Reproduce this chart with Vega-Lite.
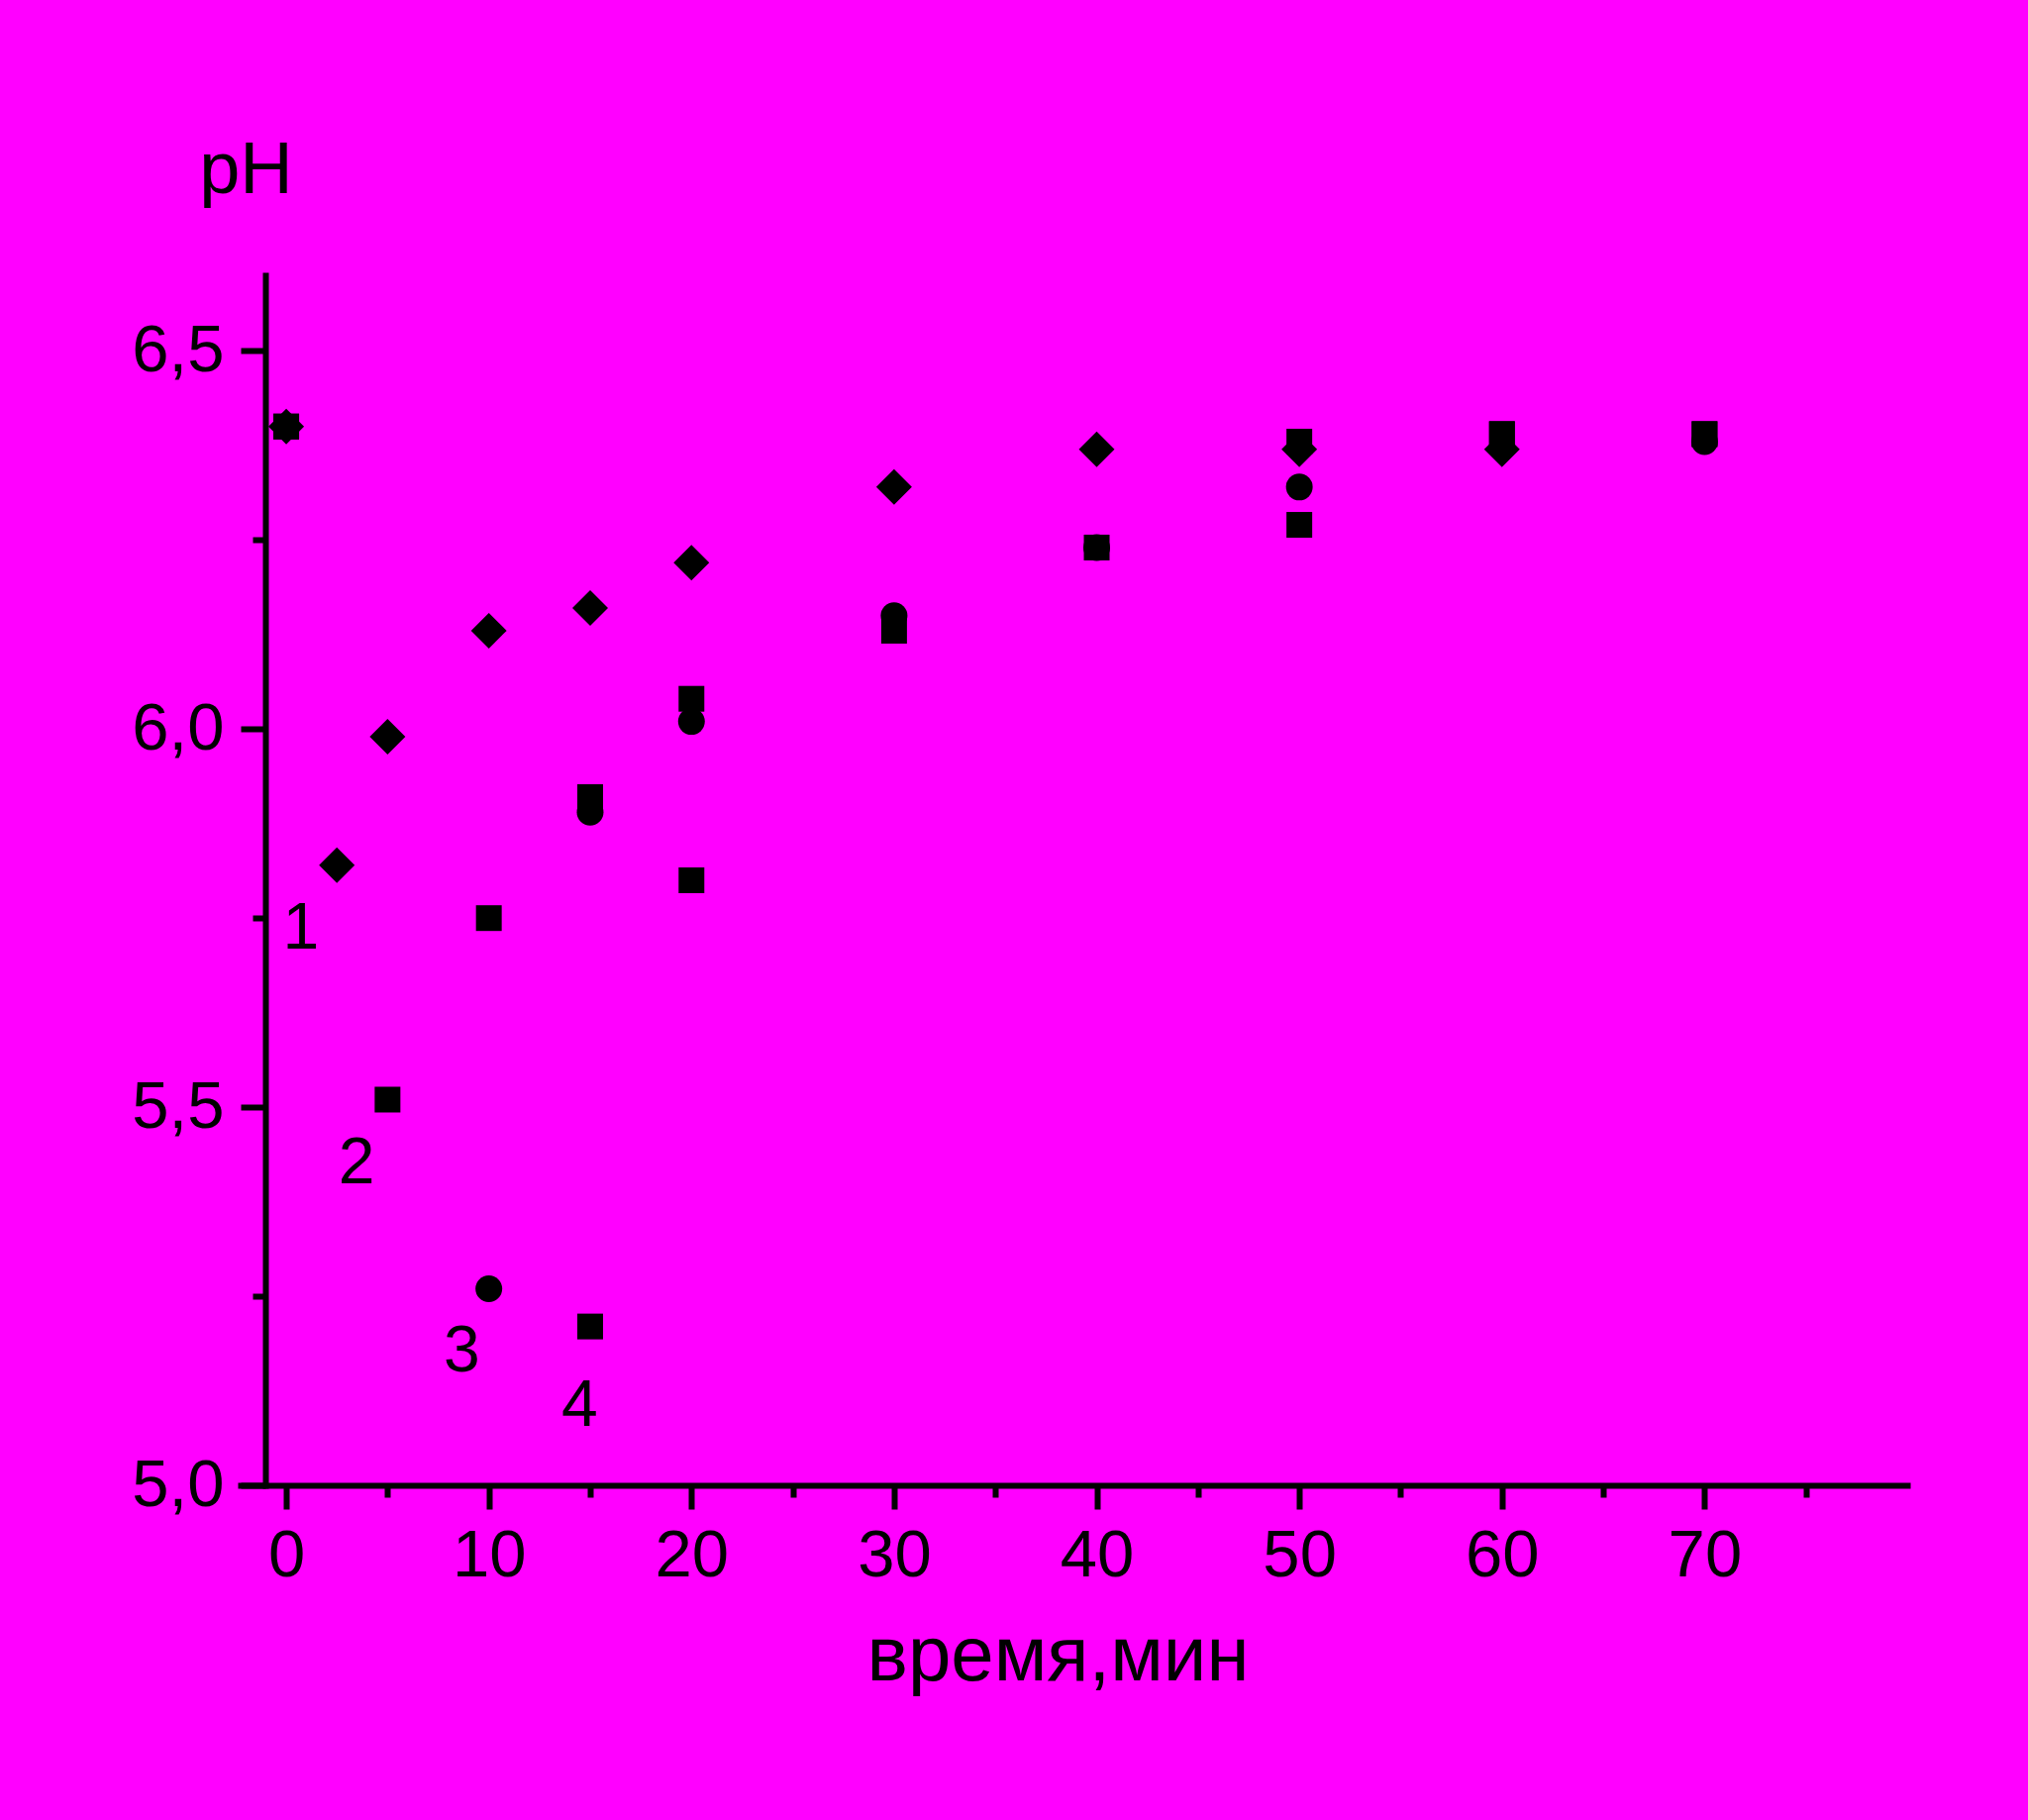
{
  "$schema": "https://vega.github.io/schema/vega-lite/v6.json",
  "width": 1683,
  "height": 1222,
  "autosize": {"type": "none"},
  "padding": {"left": 243, "top": 278, "right": 122, "bottom": 338},
  "background": "#FF00FF",
  "config": {
    "font": "Liberation Sans",
    "view": {"stroke": null},
    "axis": {
      "grid": false,
      "domainColor": "black",
      "domainWidth": 6,
      "domainCap": "square",
      "tickColor": "black",
      "tickWidth": 6,
      "labelColor": "black",
      "labelFont": "Liberation Sans",
      "labelFontSize": 67,
      "titleColor": "black",
      "titleFont": "Liberation Sans",
      "titleFontWeight": "normal",
      "labelOverlap": false,
      "labelFlush": false
    }
  },
  "datasets": {
    "points": [
      {"series": "1", "time": 0, "pH": 6.40},
      {"series": "1", "time": 2.5, "pH": 5.82},
      {"series": "1", "time": 5, "pH": 5.99},
      {"series": "1", "time": 10, "pH": 6.13},
      {"series": "1", "time": 15, "pH": 6.16},
      {"series": "1", "time": 20, "pH": 6.22},
      {"series": "1", "time": 30, "pH": 6.32},
      {"series": "1", "time": 40, "pH": 6.37},
      {"series": "1", "time": 50, "pH": 6.37},
      {"series": "1", "time": 60, "pH": 6.37},
      {"series": "3", "time": 0, "pH": 6.40},
      {"series": "3", "time": 10, "pH": 5.26},
      {"series": "3", "time": 15, "pH": 5.89},
      {"series": "3", "time": 20, "pH": 6.01},
      {"series": "3", "time": 30, "pH": 6.15},
      {"series": "3", "time": 40, "pH": 6.24},
      {"series": "3", "time": 50, "pH": 6.32},
      {"series": "3", "time": 70, "pH": 6.38},
      {"series": "2", "time": 0, "pH": 6.40},
      {"series": "2", "time": 5, "pH": 5.51},
      {"series": "2", "time": 10, "pH": 5.75},
      {"series": "2", "time": 15, "pH": 5.91},
      {"series": "2", "time": 20, "pH": 6.04},
      {"series": "2", "time": 30, "pH": 6.13},
      {"series": "2", "time": 40, "pH": 6.24},
      {"series": "2", "time": 50, "pH": 6.27},
      {"series": "2", "time": 60, "pH": 6.39},
      {"series": "2", "time": 70, "pH": 6.39},
      {"series": "4", "time": 0, "pH": 6.40},
      {"series": "4", "time": 15, "pH": 5.21},
      {"series": "4", "time": 20, "pH": 5.80},
      {"series": "4", "time": 50, "pH": 6.38},
      {"series": "4", "time": 60, "pH": 6.39},
      {"series": "4", "time": 70, "pH": 6.39}
    ],
    "labels": [
      {"time": 0.73, "pH": 5.736, "label": "1"},
      {"time": 3.47, "pH": 5.425, "label": "2"},
      {"time": 8.66, "pH": 5.177, "label": "3"},
      {"time": 14.48, "pH": 5.105, "label": "4"}
    ]
  },
  "encoding": {
    "x": {
      "field": "time",
      "type": "quantitative",
      "scale": {"domain": [-2.25, 80], "nice": false, "zero": false},
      "axis": {
        "values": [0, 5, 10, 15, 20, 25, 30, 35, 40, 45, 50, 55, 60, 65, 70, 75],
        "labelExpr": "datum.value % 10 === 0 ? datum.label : ''",
        "tickSize": {"condition": {"test": "datum.value % 10 === 0", "value": 24}, "value": 12},
        "labelPadding": 14,
        "title": "время,мин",
        "titleFontSize": 78,
        "titleAlign": "center",
        "titleBaseline": "alphabetic",
        "titleX": 825,
        "titleY": 196
      }
    },
    "y": {
      "field": "pH",
      "type": "quantitative",
      "scale": {"domain": [5, 6.6], "nice": false, "zero": false},
      "axis": {
        "offset": -25,
        "values": [5, 5.25, 5.5, 5.75, 6, 6.25, 6.5],
        "labelExpr": "(datum.value * 4) % 2 === 0 ? replace(format(datum.value, '.1f'), '.', ',') : ''",
        "tickSize": {"condition": {"test": "(datum.value * 4) % 2 === 0", "value": 25}, "value": 13},
        "labelPadding": 17,
        "title": "pH",
        "titleAngle": 0,
        "titleFontSize": 74,
        "titleAlign": "center",
        "titleBaseline": "alphabetic",
        "titleX": -20,
        "titleY": -84
      }
    }
  },
  "layer": [
    {
      "data": {"name": "points"},
      "transform": [{"filter": "datum.series === '1'"}],
      "mark": {"type": "point", "shape": "diamond", "size": 1296, "filled": true, "opacity": 1, "color": "black", "strokeWidth": 0},
      "encoding": {}
    },
    {
      "data": {"name": "points"},
      "transform": [{"filter": "datum.series === '3'"}],
      "mark": {"type": "point", "shape": "circle", "size": 729, "filled": true, "opacity": 1, "color": "black", "strokeWidth": 0},
      "encoding": {}
    },
    {
      "data": {"name": "points"},
      "transform": [{"filter": "datum.series === '2' || datum.series === '4'"}],
      "mark": {"type": "point", "shape": "square", "size": 676, "filled": true, "opacity": 1, "color": "black", "strokeWidth": 0},
      "encoding": {}
    },
    {
      "data": {"name": "labels"},
      "mark": {"type": "text", "font": "Liberation Sans", "fontSize": 66, "color": "black"},
      "encoding": {
        "text": {"field": "label", "type": "nominal"}
      }
    }
  ]
}
